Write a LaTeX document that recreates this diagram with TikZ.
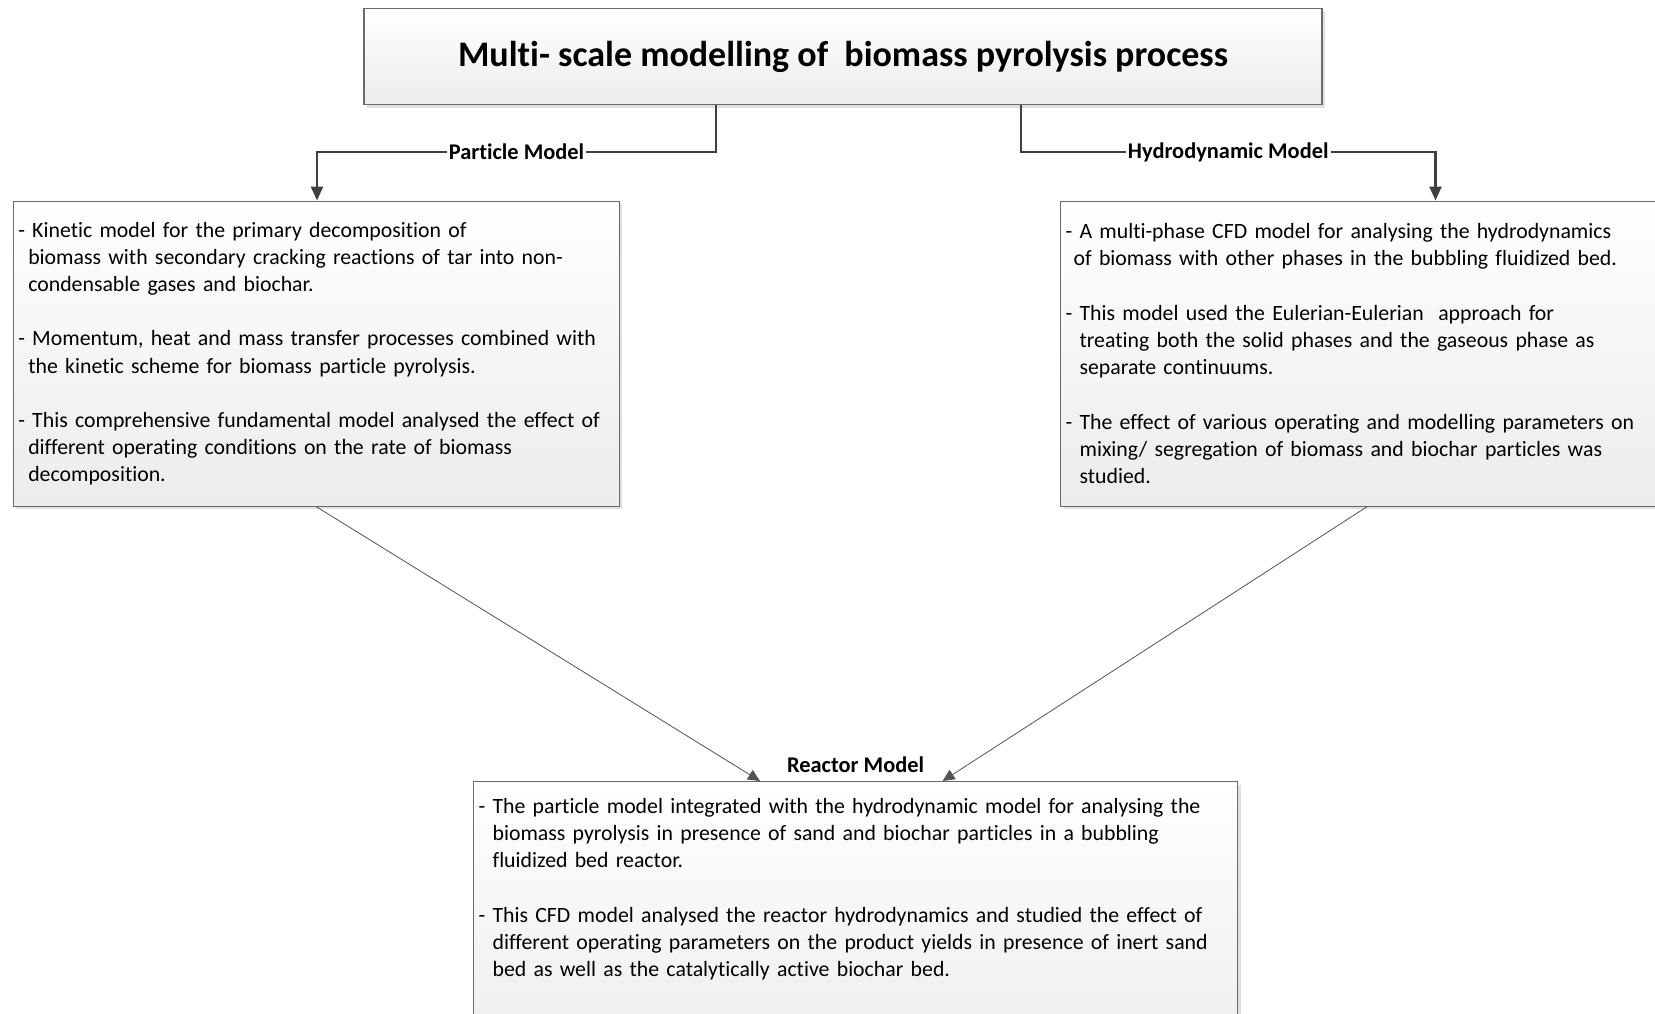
\documentclass[tikz,border=0pt]{standalone}
\usepackage{fontspec}
\setmainfont{Carlito}[Ligatures=NoCommon]
\usetikzlibrary{positioning,shadows,arrows.meta}

\definecolor{boxline}{HTML}{6A6A6A}
\definecolor{boxfill}{HTML}{ECECEC}
\definecolor{linkcol}{HTML}{404040}

\tikzset{
  modelbox/.style={draw=boxline, line width=0.6pt, top color=white, bottom color=boxfill,
    drop shadow={shadow xshift=1.5pt, shadow yshift=-1.5pt, fill=black!12, opacity=1},
    anchor=north west, align=left, inner xsep=2.5pt, inner ysep=0pt,
    font=\fontsize{10.9}{13.6}\selectfont},
  titlebox/.style={draw=boxline, line width=0.6pt, top color=white, bottom color=boxfill,
    drop shadow={shadow xshift=1.5pt, shadow yshift=-1.5pt, fill=black!12, opacity=1},
    minimum width=479pt, minimum height=48pt, font=\bfseries\fontsize{18}{21}\selectfont},
  linklabel/.style={fill=white, inner sep=1pt, font=\bfseries\fontsize{11.2}{13}\selectfont},
  bentlink/.style={draw=linkcol, line width=1.2pt, -{Triangle[width=6pt,length=7pt]}},
  thinlink/.style={draw=linkcol!90, line width=0.4pt, -{Triangle[width=5.5pt,length=6pt]}},
}
\newcommand{\contline}[1]{\hspace*{#1}}

\begin{document}
\begin{tikzpicture}[x=0.5pt,y=-0.5pt]
  \useasboundingbox (0,0) rectangle (1655,1013);

  % title
  \node[titlebox] (title) at (843,56.5) {Multi- scale modelling of \ biomass pyrolysis process};

  % the three models
  \node[modelbox, text width=298pt, minimum height=152.5pt] (particle) at (12.7,200.5)
    {- Kinetic model for the primary decomposition of\\
     \contline{5pt}biomass with secondary cracking reactions of tar into non-\\
     \contline{5pt}condensable gases and biochar.\\[13.6pt]
     - Momentum, heat and mass transfer processes combined with\\
     \contline{5pt}the kinetic scheme for biomass particle pyrolysis.\\[13.6pt]
     - This comprehensive fundamental model analysed the effect of\\
     \contline{5pt}different operating conditions on the rate of biomass\\
     \contline{5pt}decomposition.};

  \node[modelbox, text width=302pt, minimum height=152.5pt] (hydro) at (1060,200.5)
    {- A multi-phase CFD model for analysing the hydrodynamics\\
     \contline{4pt}of biomass with other phases in the bubbling fluidized bed.\\[13.6pt]
     - This model used the Eulerian-Eulerian \ approach for\\
     \contline{7pt}treating both the solid phases and the gaseous phase as\\
     \contline{7pt}separate continuums.\\[13.6pt]
     - The effect of various operating and modelling parameters on\\
     \contline{7pt}mixing/ segregation of biomass and biochar particles was\\
     \contline{7pt}studied.};

  \node[modelbox, text width=377pt, minimum height=146.8pt] (reactor) at (473,781)
    {- The particle model integrated with the hydrodynamic model for analysing the\\
     \contline{7pt}biomass pyrolysis in presence of sand and biochar particles in a bubbling\\
     \contline{7pt}fluidized bed reactor.\\[13.6pt]
     - This CFD model analysed the reactor hydrodynamics and studied the effect of\\
     \contline{7pt}different operating parameters on the product yields in presence of inert sand\\
     \contline{7pt}bed as well as the catalytically active biochar bed.\\[13.6pt]
     \mbox{}\\ \mbox{}};
  \node[linklabel, fill=none, above=3pt of reactor] (reactorlbl) {Reactor Model};

  % links
  \draw[bentlink] (title.south -| 716,0) -- (716,152)
    -- node[linklabel] (particlelbl) {Particle Model} (317,152) -- (particle.north -| 317,0);
  \draw[bentlink] (title.south -| 1021,0) -- (1021,152)
    -- node[linklabel] (hydrolbl) {Hydrodynamic Model} (1435.5,152) -- (hydro.north -| 1435.5,0);
  \draw[thinlink] (particle.south) -- (reactor.north -| 760,0);
  \draw[thinlink] (hydro.south -| 1367,0) -- (reactor.north -| 942.6,0);
\end{tikzpicture}
\end{document}
